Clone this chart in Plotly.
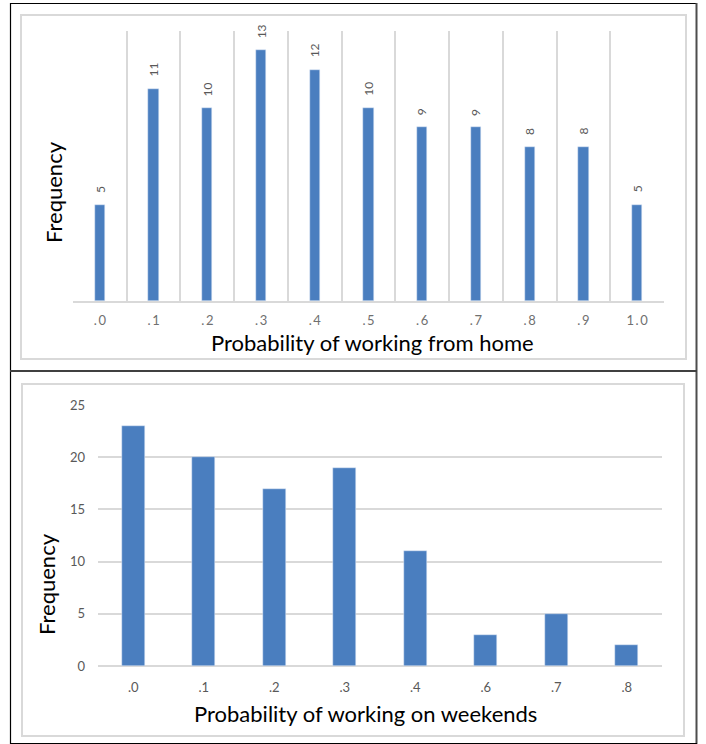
import plotly.graph_objects as go

# Frequency of workers by probability of working from home
home_cats = [".0", ".1", ".2", ".3", ".4", ".5", ".6", ".7", ".8", ".9", "1.0"]
home_freq = [5, 11, 10, 13, 12, 10, 9, 9, 8, 8, 5]

# Frequency of workers by probability of working on weekends
wkd_cats = [".0", ".1", ".2", ".3", ".4", ".6", ".7", ".8"]
wkd_freq = [23, 20, 17, 19, 11, 3, 5, 2]

W, H = 706, 744
BAR = "#4A7EBF"
GRID = "#D9D9D9"
TICK = "#595959"
FONT = "Lato"


def fx(p):
    return p / W


def fy(p):
    return 1 - p / H


def spaced(s):
    return "\u2009".join(s)


fig = go.Figure()

fig.add_trace(go.Bar(
    x=home_cats, y=home_freq, marker_color=BAR, width=0.19,
    xaxis="x", yaxis="y", showlegend=False, hoverinfo="x+y",
))
fig.add_trace(go.Bar(
    x=wkd_cats, y=wkd_freq, marker_color=BAR, width=0.33,
    xaxis="x2", yaxis="y2", showlegend=False, hoverinfo="x+y",
))

annotations = []
# value labels above the upper bars, rotated (x given as category index)
for i, v in enumerate(home_freq):
    annotations.append(dict(
        x=i, y=v, xref="x", yref="y", text=str(v), showarrow=False,
        textangle=-90, xanchor="center", yanchor="bottom", yshift=10,
        font=dict(family=FONT, size=12, color=TICK),
    ))

# axis titles
title_font = dict(family=FONT, size=22, color="black")
annotations += [
    dict(x=fx(372), y=fy(343), xref="paper", yref="paper",
         xanchor="center", yanchor="middle",
         text="Probability of working from home", showarrow=False,
         font=title_font),
    dict(x=fx(53), y=fy(192), xref="paper", yref="paper",
         xanchor="center", yanchor="middle",
         text="Frequency", showarrow=False, textangle=-90, font=title_font),
    dict(x=fx(365), y=fy(713), xref="paper", yref="paper",
         xanchor="center", yanchor="middle",
         text="Probability of working on weekends", showarrow=False,
         font=title_font),
    dict(x=fx(46), y=fy(584), xref="paper", yref="paper",
         xanchor="center", yanchor="middle",
         text="Frequency", showarrow=False, textangle=-90, font=title_font),
]


def line(x0, y0, x1, y1, color, width):
    return dict(type="line", xref="paper", yref="paper",
                x0=fx(x0), y0=fy(y0), x1=fx(x1), y1=fy(y1),
                line=dict(color=color, width=width))


def rect(x0, y0, x1, y1, color, width):
    return dict(type="rect", xref="paper", yref="paper",
                x0=fx(x0), y0=fy(y0), x1=fx(x1), y1=fy(y1),
                line=dict(color=color, width=width), layer="below")


shapes = [
    rect(21, 15, 686, 359, "#D9D9D9", 2),
    rect(22, 384, 684, 736, "#D9D9D9", 2),
    line(10.5, 3.5, 697, 3.5, "black", 1),
    line(10.5, 3, 10.5, 744, "black", 1.2),
    line(696.5, 3, 696.5, 744, "#4D4D4D", 2),
    line(10, 371, 697, 371, "#404040", 2),
    line(10, 743.5, 697, 743.5, "black", 1),
]

fig.update_layout(
    width=W, height=H, autosize=False,
    margin=dict(l=0, r=0, t=0, b=0, autoexpand=False),
    paper_bgcolor="white", plot_bgcolor="white",
    font=dict(family=FONT, color=TICK),
    bargap=0,
    annotations=annotations,
    shapes=shapes,
    xaxis=dict(
        domain=[fx(73), fx(664)], anchor="y", type="category",
        categoryorder="array", categoryarray=home_cats,
        tickmode="array", tickvals=home_cats,
        ticktext=[spaced(c) for c in home_cats],
        tickson="boundaries", showgrid=True, gridcolor=GRID, gridwidth=1.5,
        showline=True, linecolor=GRID, linewidth=1.5,
        ticks="", ticklabelstandoff=7, automargin=False,
        tickfont=dict(family=FONT, size=13, color="#707070"),
        fixedrange=True,
    ),
    yaxis=dict(
        domain=[fy(301), fy(31)], anchor="x", range=[0, 14],
        showgrid=False, zeroline=False, showticklabels=False,
        automargin=False, fixedrange=True,
    ),
    xaxis2=dict(
        domain=[fx(98), fx(662)], anchor="y2", type="category",
        categoryorder="array", categoryarray=wkd_cats,
        showgrid=False, showline=False, ticks="", ticklabelstandoff=12,
        automargin=False,
        tickfont=dict(family=FONT, size=13, color=TICK), fixedrange=True,
    ),
    yaxis2=dict(
        domain=[fy(666), fy(405)], anchor="x2", range=[0, 25],
        tickvals=[0, 5, 10, 15, 20, 25], showgrid=True, gridcolor=GRID,
        gridwidth=1.5, zeroline=True, zerolinecolor=GRID, zerolinewidth=1.5,
        ticks="", ticklabelstandoff=12, automargin=False,
        tickfont=dict(family=FONT, size=13, color=TICK), fixedrange=True,
    ),
)

fig.write_html("out.html")
